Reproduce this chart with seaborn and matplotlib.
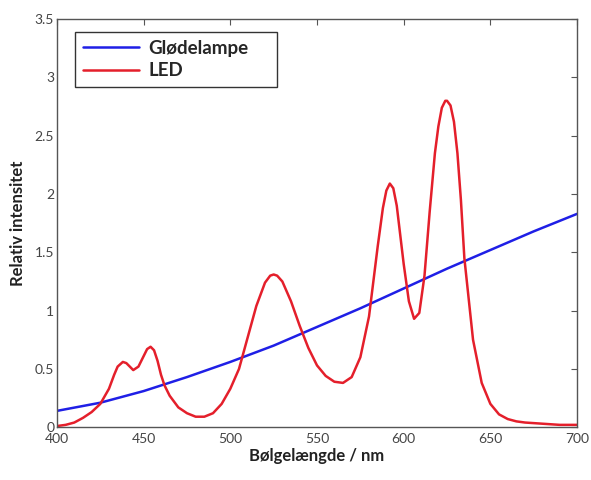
import numpy as np
import pandas as pd
import matplotlib
matplotlib.use("Agg")
import matplotlib.pyplot as plt
import seaborn as sns

sns.set_style("white")
plt.rcParams["font.family"] = ["Lato", "DejaVu Sans"]

# Glødelampe (incandescent) spectrum
lamp_nm = [400, 425, 450, 475, 500, 525, 550, 575, 600, 625, 650, 675, 700]
lamp_int = [0.14, 0.21, 0.31, 0.43, 0.56, 0.70, 0.86, 1.02, 1.19, 1.36, 1.52, 1.68, 1.83]

# LED spectrum
led_nm = [400, 405, 410, 415, 420, 425, 430, 433, 435, 438, 440, 442, 444, 447,
          450, 452, 454, 456, 458, 460, 462, 465, 470, 475, 480, 485, 490, 495,
          500, 505, 510, 515, 520, 523, 525, 527, 530, 535, 540, 545, 550, 555,
          560, 565, 570, 575, 580, 585, 588, 590, 592, 594, 596, 598, 600, 603,
          606, 609, 612, 615, 618, 620, 622, 624, 625, 627, 629, 631, 633, 635,
          640, 645, 650, 655, 660, 665, 670, 680, 690, 700]
led_int = [0.01, 0.02, 0.04, 0.08, 0.13, 0.20, 0.33, 0.45, 0.52, 0.56, 0.55, 0.52, 0.49, 0.52,
           0.61, 0.67, 0.69, 0.66, 0.57, 0.45, 0.36, 0.27, 0.17, 0.12, 0.09, 0.09, 0.12, 0.20,
           0.33, 0.50, 0.77, 1.04, 1.24, 1.30, 1.31, 1.30, 1.25, 1.08, 0.87, 0.68, 0.53, 0.44,
           0.39, 0.38, 0.43, 0.60, 0.95, 1.55, 1.88, 2.03, 2.09, 2.05, 1.90, 1.65, 1.40, 1.08,
           0.93, 0.98, 1.30, 1.85, 2.35, 2.58, 2.74, 2.80, 2.80, 2.76, 2.62, 2.35, 1.95, 1.45,
           0.75, 0.38, 0.20, 0.11, 0.07, 0.05, 0.04, 0.03, 0.02, 0.02]

lamp = pd.DataFrame({"nm": lamp_nm, "val": lamp_int})
led = pd.DataFrame({"nm": led_nm, "val": led_int})

fig = plt.figure(figsize=(5.91, 4.8), dpi=100)
ax = fig.add_axes([0.0964, 0.110, 0.880, 0.850])

sns.lineplot(data=lamp, x="nm", y="val", ax=ax, color="#1f1fe6", lw=1.8, label="Glødelampe")
sns.lineplot(data=led, x="nm", y="val", ax=ax, color="#e41f2b", lw=1.8, label="LED")

ax.set_xlim(400, 700)
ax.set_ylim(0, 3.5)
ax.set_xticks([400, 450, 500, 550, 600, 650, 700])
ax.set_yticks([0, 0.5, 1, 1.5, 2, 2.5, 3, 3.5])
ax.set_yticklabels(["0", "0.5", "1", "1.5", "2", "2.5", "3", "3.5"])
ax.tick_params(direction="in", top=True, right=True, length=4, width=0.8,
               labelsize=10, labelcolor="#444444", color="#555555")
ax.tick_params(axis="x", pad=4)
ax.tick_params(axis="y", pad=2)
for s in ax.spines.values():
    s.set_color("#555555")
    s.set_linewidth(1.0)

ax.set_xlabel("Bølgelængde / nm", fontsize=12, fontweight="bold", color="#222222", labelpad=2)
ax.set_ylabel("Relativ intensitet", fontsize=12, fontweight="bold", color="#222222", labelpad=6)

leg = ax.legend(loc="upper left", bbox_to_anchor=(0.035, 0.833, 0.388, 0.135), mode="expand",
                borderaxespad=0, fancybox=False, edgecolor="#333333", framealpha=1,
                handlelength=3.0, handletextpad=0.5,
                prop={"weight": "bold", "size": 13.5}, borderpad=0.4, labelspacing=0.3)
leg.get_frame().set_linewidth(1.0)

fig.savefig("out.png", dpi=100)
